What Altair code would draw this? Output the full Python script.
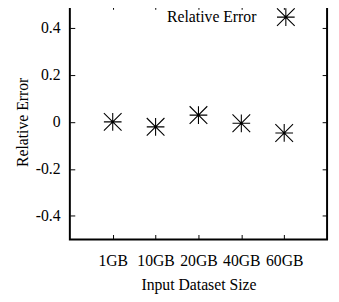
import altair as alt
import pandas as pd

categories = ["1GB", "10GB", "20GB", "40GB", "60GB"]
positions = [1, 2, 3, 4, 5]
rel_error = [0.0, -0.021, 0.029, -0.006, -0.047]
y_ticks = [-0.4, -0.2, 0.0, 0.2, 0.4]

df = pd.DataFrame({"pos": positions, "cat": categories, "err": rel_error})

STAR = "M-1,0L1,0M0,-1L0,1M-1,-1L1,1M-1,1L1,-1"
FONT = "Times New Roman, Liberation Serif, serif"

label_expr = "[" + ",".join(f"'{c}'" for c in categories) + "][datum.value - 1]"
ylab_expr = "datum.value == 0 ? '0' : (datum.value < 0 ? '-' : '') + format(abs(datum.value), '.1f')"

xscale = alt.Scale(domain=[0, 6], nice=False, zero=False)
yscale = alt.Scale(domain=[-0.5, 0.5], nice=False, zero=False)

base = alt.Chart(df)

points = base.mark_point(shape=STAR, size=324, color="black", strokeWidth=1.1,
                         filled=False, opacity=1).encode(
    x=alt.X("pos:Q", scale=xscale, axis=alt.Axis(
        orient="bottom", values=positions, labelExpr=label_expr, offset=-5, tickSize=5,
        tickColor="black", tickWidth=1, domain=False, grid=False,
        labelFont=FONT, labelFontSize=16, labelColor="black", labelPadding=14,
        title="Input Dataset Size", titleFont=FONT, titleFontSize=16,
        titleFontWeight="normal", titleColor="black", titlePadding=8)),
    y=alt.Y("err:Q", scale=yscale, axis=alt.Axis(
        orient="left", values=y_ticks, labelExpr=ylab_expr, offset=-5, tickSize=5,
        tickColor="black", tickWidth=1, domain=False, grid=False,
        labelFont=FONT, labelFontSize=16, labelColor="black", labelPadding=10,
        title="Relative Error", titleFont=FONT, titleFontSize=16,
        titleFontWeight="normal", titleColor="black", titlePadding=5)),
)

mirror = base.mark_point(opacity=0).encode(
    x=alt.X("pos:Q", scale=xscale, axis=alt.Axis(
        orient="top", values=positions, labels=False, offset=-5, tickSize=5,
        tickColor="black", tickWidth=1, domain=False, grid=False, title=None)),
    y=alt.Y("err:Q", scale=yscale, axis=alt.Axis(
        orient="right", values=y_ticks, labels=False, offset=-5, tickSize=5,
        tickColor="black", tickWidth=1, domain=False, grid=False, title=None)),
)

key_text = alt.Chart(pd.DataFrame({"t": ["Relative Error"]})).mark_text(
    align="right", baseline="middle", font=FONT, fontSize=16, color="black"
).encode(text="t:N", x=alt.value(190), y=alt.value(13))

key_mark = alt.Chart(pd.DataFrame({"t": ["Relative Error"]})).mark_point(
    shape=STAR, size=324, color="black", strokeWidth=1.1, filled=False, opacity=1
).encode(x=alt.value(220), y=alt.value(13))

chart = alt.layer(points, mirror, key_text, key_mark).resolve_axis(
    x="independent", y="independent"
).properties(
    width=262, height=239.4,
    autosize=alt.AutoSizeParams(type="none"),
    padding={"left": 63, "top": -6.4, "right": 4, "bottom": 60},
).configure_view(stroke="black", strokeWidth=2)

chart.save("out.html", embed_options={"renderer": "svg", "actions": False})
